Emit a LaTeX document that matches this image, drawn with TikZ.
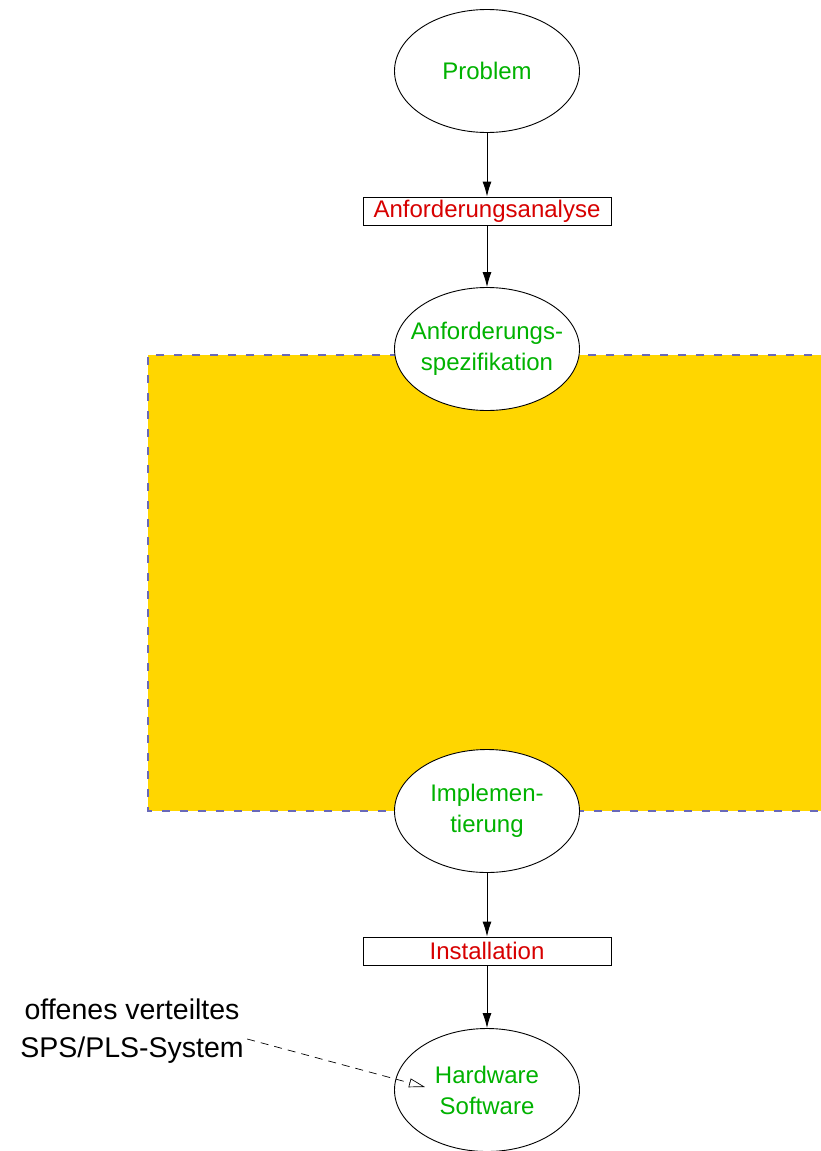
\documentclass[tikz,border=0pt]{standalone}
\usepackage{fontspec}
\setmainfont{Liberation Sans}
\usepackage{xcolor}
\usepackage{tikz}
\usetikzlibrary{shapes.geometric, arrows.meta, positioning}
\definecolor{stepgreen}{RGB}{0,178,0}
\definecolor{actred}{RGB}{215,0,0}
\definecolor{areagold}{RGB}{255,214,0}
\definecolor{areaedge}{RGB}{105,105,185}
\tikzstyle{arrow} = [line width=0.9pt,-{Latex[length=15pt,width=9pt]}]
\tikzstyle{pointer} = [line width=0.7pt,dash pattern=on 8pt off 6pt,-{Triangle[open,length=16pt,width=9pt]}]
\tikzstyle{result} = [ellipse, draw, line width=0.9pt, fill=white, minimum width=185pt, minimum height=123pt, inner xsep=-15pt, inner ysep=0pt, align=center, text=stepgreen, font=\fontsize{24}{31}\selectfont]
\tikzstyle{activity} = [rectangle, draw, line width=0.9pt, fill=white, minimum width=248pt, minimum height=28pt, inner sep=0pt, text=actred, font=\fontsize{24}{28}\selectfont]

\begin{document}
\begin{tikzpicture}[x=1pt, y=-1pt]
        \useasboundingbox (0,0) rectangle (821,1151);
        % Shaded area
        \fill[areagold] (148,355) rectangle (830,811);
        \draw[areaedge, line width=1.5pt, dash pattern=on 8pt off 10pt] (830,355) -- (148,355) -- (148,811) -- (830,811);
        % Results and activities
        \node[result] (problem) at (487,71) {Problem};
        \node[activity] (analyse) at (487,211) {Anforderungsanalyse};
        \node[result] (spec) at (487,349) {Anforderungs-\\spezifikation};
        \node[result] (impl) at (487,811) {Implemen-\\tierung};
        \node[activity] (install) at (487,951) {Installation};
        \node[result] (system) at (487,1090) {Hardware\\Software};
        \draw[arrow] (problem) -- (analyse);
        \draw[arrow] (analyse) -- (spec);
        \draw[arrow] (impl) -- (install);
        \draw[arrow] (install) -- (system);
        % Annotation
        \node[align=center, font=\fontsize{28.5}{38}\selectfont] (sps) at (132,1031) {offenes verteiltes\\SPS/PLS-System};
        \coordinate (tip) at (425,1087);
        \draw[pointer] ([xshift=0pt,yshift=-8pt]sps.east) -- (tip);
        \end{tikzpicture}
\end{document}
